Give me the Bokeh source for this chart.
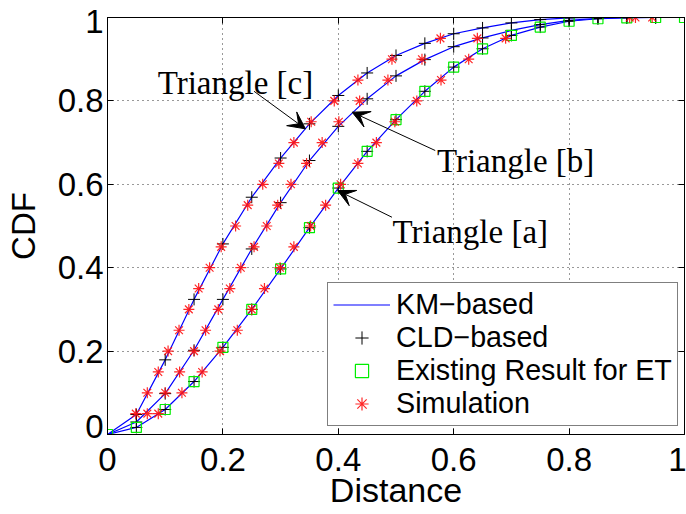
from bokeh.plotting import figure
from bokeh.models import (Range1d, FixedTicker, LinearAxis, Legend, LegendItem,
                          Arrow, VeeHead, Label)
from bokeh.embed import file_html
from bokeh.resources import INLINE

# ---------------- data ----------------
x_grid = [0.0, 0.05, 0.10, 0.15, 0.20, 0.25, 0.30, 0.35, 0.40, 0.45, 0.50,
          0.55, 0.60, 0.65, 0.70, 0.75, 0.80, 0.85, 0.90, 0.95, 1.0]

cdf_a = [0.0, 0.017, 0.060, 0.127, 0.209, 0.300, 0.397, 0.496, 0.591, 0.679, 0.755,
         0.823, 0.881, 0.925, 0.957, 0.977, 0.991, 0.997, 0.999, 1.0, 1.0]
cdf_b = [0.0, 0.030, 0.098, 0.202, 0.324, 0.445, 0.556, 0.657, 0.739, 0.805, 0.860,
         0.899, 0.930, 0.951, 0.969, 0.983, 0.993, 0.998, 1.0, 1.0, 1.0]
cdf_c = [0.0, 0.048, 0.179, 0.324, 0.457, 0.569, 0.663, 0.745, 0.813, 0.867, 0.909,
         0.938, 0.961, 0.975, 0.987, 0.995, 0.999, 1.0, 1.0, 1.0, 1.0]

# simulation: empirical quantiles at CDF levels 0.05 ... 1.0
sim_levels = [0.05, 0.10, 0.15, 0.20, 0.25, 0.30, 0.35, 0.40, 0.45, 0.50,
              0.55, 0.60, 0.65, 0.70, 0.75, 0.80, 0.85, 0.90, 0.95, 1.0]
sim_a = [0.088, 0.129, 0.164, 0.195, 0.225, 0.250, 0.272, 0.299, 0.323, 0.352,
         0.378, 0.404, 0.434, 0.466, 0.498, 0.536, 0.578, 0.626, 0.690, 0.944]
sim_b = [0.069, 0.100, 0.125, 0.150, 0.170, 0.192, 0.212, 0.231, 0.254, 0.276,
         0.295, 0.318, 0.345, 0.372, 0.401, 0.437, 0.486, 0.545, 0.641, 0.915]
sim_c = [0.049, 0.069, 0.088, 0.105, 0.124, 0.141, 0.158, 0.177, 0.197, 0.222,
         0.243, 0.269, 0.297, 0.323, 0.353, 0.393, 0.434, 0.493, 0.577, 0.905]

ticks = [0, 0.2, 0.4, 0.6, 0.8, 1]
tick_labels = ["0", "0.2", "0.4", "0.6", "0.8", "1"]
x_title = "Distance"
y_title = "CDF"

legend_labels = ["KM\u2212based", "CLD\u2212based", "Existing Result for ET", "Simulation"]

# annotations: label text, label anchor, arrow tail, arrow head
ann_text = ["Triangle [c]", "Triangle [b]", "Triangle [a]"]
ann_label_x = [0.087, 0.571, 0.494]
ann_label_y = [0.842, 0.657, 0.485]
ann_tail_x = [0.254, 0.568, 0.493]
ann_tail_y = [0.823, 0.681, 0.521]
ann_head_x = [0.343, 0.424, 0.399]
ann_head_y = [0.733, 0.773, 0.585]

# ---------------- figure ----------------
FRAME_H = 417
p = figure(frame_width=577, frame_height=FRAME_H, x_range=Range1d(0, 1),
           y_range=Range1d(0, 1), output_backend="svg", toolbar_location=None,
           min_border_left=107, min_border_right=2, min_border_top=17,
           min_border_bottom=80)
p.background_fill_color = "white"
p.border_fill_color = "white"
p.outline_line_color = "black"
p.outline_line_width = 1

tick_font = "Liberation Sans"

# x axis
xa = p.xaxis[0]
xa.ticker = FixedTicker(ticks=ticks)
xa.major_label_overrides = {t: l for t, l in zip(ticks, tick_labels)}
xa.major_label_text_font = tick_font
xa.major_label_text_font_size = "33px"
xa.major_label_text_color = "black"
xa.major_label_standoff = 13
xa.major_tick_in = 6
xa.major_tick_out = 0
xa.minor_tick_line_color = None
xa.axis_line_color = "black"
xa.axis_label = x_title
xa.axis_label_text_font = tick_font
xa.axis_label_text_font_style = "normal"
xa.axis_label_text_font_size = "34px"
xa.axis_label_text_color = "black"
xa.axis_label_standoff = -3

# y axis: inner axis carries the tick marks only
ya = p.yaxis[0]
ya.ticker = FixedTicker(ticks=ticks)
ya.major_label_overrides = {t: "" for t in ticks}
ya.major_label_text_font_size = "0px"
ya.major_label_standoff = 0
ya.major_tick_in = 6
ya.major_tick_out = 0
ya.minor_tick_line_color = None
ya.axis_line_color = "black"

# outer y axis carries the labels; the end labels sit slightly inward as in the reference
nudge_px = [8, 0, 0, 0, 0, -4]
label_pos = [t + d / FRAME_H for t, d in zip(ticks, nudge_px)]
ylab = LinearAxis(ticker=FixedTicker(ticks=label_pos),
                  major_label_overrides={t: l for t, l in zip(label_pos, tick_labels)},
                  major_label_text_font=tick_font, major_label_text_font_size="33px",
                  major_label_text_color="black", major_label_standoff=4,
                  major_tick_line_color=None, minor_tick_line_color=None,
                  major_tick_in=0, major_tick_out=0, minor_tick_in=0, minor_tick_out=0,
                  axis_line_color=None, axis_label=y_title,
                  axis_label_text_font=tick_font, axis_label_text_font_style="normal",
                  axis_label_text_font_size="33px", axis_label_text_color="black",
                  axis_label_standoff=13)
p.add_layout(ylab, "left")

for side in ("right", "above"):
    ax = LinearAxis(ticker=FixedTicker(ticks=ticks),
                    major_label_overrides={t: "" for t in ticks},
                    major_tick_in=6, major_tick_out=0, minor_tick_line_color=None,
                    minor_tick_out=0, major_label_standoff=0, axis_line_color="black",
                    major_label_text_font_size="0px")
    p.add_layout(ax, side)

for g in (p.xgrid[0], p.ygrid[0]):
    g.ticker = FixedTicker(ticks=ticks)
    g.grid_line_color = "#333333"
    g.grid_line_dash = "1 4"
    g.grid_line_width = 1

blue = "#0000ff"
km = []
cld = []
for cdf in (cdf_a, cdf_b, cdf_c):
    km.append(p.line(x_grid, cdf, line_color=blue, line_width=1.2))

for cdf in (cdf_a, cdf_b, cdf_c):
    cld.append(p.scatter(x_grid, cdf, marker="cross", size=12, line_color="black",
                         line_width=1))

et = p.scatter(x_grid, cdf_a, marker="square", size=10, fill_color=None,
               line_color="#00ee00", line_width=1.2)

sims = []
for sx in (sim_a, sim_b, sim_c):
    sims.append(p.scatter(sx, sim_levels, marker="asterisk", size=11,
                          line_color="#ff1010", line_width=1.2, line_alpha=0.9))

legend = Legend(items=[LegendItem(label=legend_labels[0], renderers=[km[0]]),
                       LegendItem(label=legend_labels[1], renderers=[cld[0]]),
                       LegendItem(label=legend_labels[2], renderers=[et]),
                       LegendItem(label=legend_labels[3], renderers=[sims[0]])],
                location=(220, 8))
legend.label_text_font = tick_font
legend.label_text_font_size = "28.7px"
legend.label_text_color = "black"
legend.glyph_width = 57
legend.glyph_height = 33
legend.label_height = 33
legend.spacing = 0
legend.padding = 5
legend.margin = 0
legend.label_standoff = 6
legend.border_line_color = "black"
legend.border_line_width = 1
legend.background_fill_color = "white"
legend.background_fill_alpha = 1
p.add_layout(legend)

for i in range(3):
    p.add_layout(Arrow(end=VeeHead(size=17, fill_color="black", line_color="black"),
                       x_start=ann_tail_x[i], y_start=ann_tail_y[i],
                       x_end=ann_head_x[i], y_end=ann_head_y[i],
                       line_color="black", line_width=1))
    p.add_layout(Label(x=ann_label_x[i], y=ann_label_y[i], text=ann_text[i],
                       text_font="Liberation Serif", text_font_size="33px",
                       text_color="black", text_baseline="alphabetic"))

open("out.html", "w").write(file_html(p, INLINE))
